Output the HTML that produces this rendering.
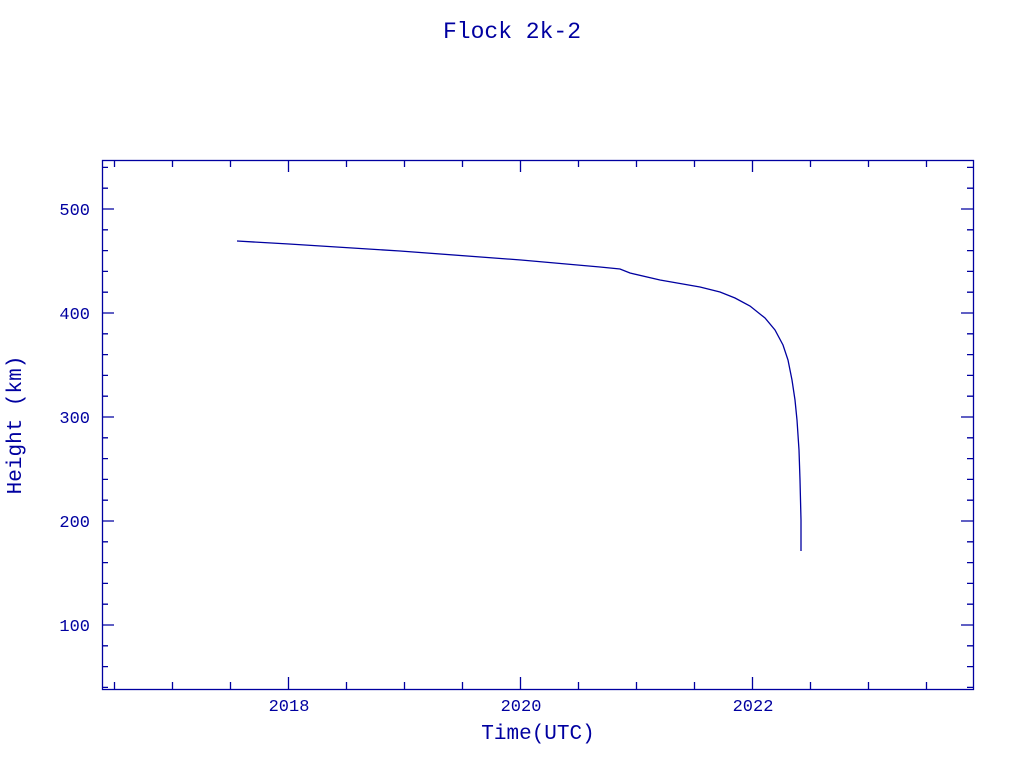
<!DOCTYPE html>
<html><head><meta charset="utf-8"><style>
body{margin:0;background:#fff;}
svg{display:block;font-family:"Liberation Mono",monospace;}
</style></head><body>
<svg width="1024" height="768" viewBox="0 0 1024 768" xmlns="http://www.w3.org/2000/svg">
<g fill="#0000a0" font-size="17">
<text x="512" y="38" text-anchor="middle" font-size="23">Flock 2k-2</text>
<text x="289" y="711" text-anchor="middle">2018</text>
<text x="521" y="711" text-anchor="middle">2020</text>
<text x="753" y="711" text-anchor="middle">2022</text>
<text x="538" y="739" text-anchor="middle" font-size="21">Time(UTC)</text>
<text x="90" y="215" text-anchor="end">500</text>
<text x="90" y="319" text-anchor="end">400</text>
<text x="90" y="423" text-anchor="end">300</text>
<text x="90" y="527" text-anchor="end">200</text>
<text x="90" y="631" text-anchor="end">100</text>
<text transform="translate(21,425) rotate(-90)" text-anchor="middle" font-size="21">Height (km)</text>
</g>
<g stroke="#0000a0" stroke-width="1.3" fill="none">
<rect x="102.5" y="160.5" width="871" height="529"/>
<path d="M114.5 689v-7M114.5 160v7M172.5 689v-7M172.5 160v7M230.5 689v-7M230.5 160v7M288.5 689v-12M288.5 160v12M346.5 689v-7M346.5 160v7M404.5 689v-7M404.5 160v7M462.5 689v-7M462.5 160v7M520.5 689v-12M520.5 160v12M578.5 689v-7M578.5 160v7M636.5 689v-7M636.5 160v7M694.5 689v-7M694.5 160v7M752.5 689v-12M752.5 160v12M810.5 689v-7M810.5 160v7M868.5 689v-7M868.5 160v7M926.5 689v-7M926.5 160v7"/>
<path d="M102 687.4h6M973 687.4h-6M102 666.6h6M973 666.6h-6M102 645.8h6M973 645.8h-6M102 625h12M973 625h-12M102 604.2h6M973 604.2h-6M102 583.4h6M973 583.4h-6M102 562.6h6M973 562.6h-6M102 541.8h6M973 541.8h-6M102 521h12M973 521h-12M102 500.2h6M973 500.2h-6M102 479.4h6M973 479.4h-6M102 458.6h6M973 458.6h-6M102 437.8h6M973 437.8h-6M102 417h12M973 417h-12M102 396.2h6M973 396.2h-6M102 375.4h6M973 375.4h-6M102 354.6h6M973 354.6h-6M102 333.8h6M973 333.8h-6M102 313h12M973 313h-12M102 292.2h6M973 292.2h-6M102 271.4h6M973 271.4h-6M102 250.6h6M973 250.6h-6M102 229.8h6M973 229.8h-6M102 209h12M973 209h-12M102 188.2h6M973 188.2h-6M102 167.4h6M973 167.4h-6"/>
<polyline points="237,241 289,244 400,251 521,260 600,267 620,269 630,273 660,280 700,287 720,292 735,298 750,306 765,318 775,330 783,345 788,360 792,380 795,400 797,420 799,450 800,480 801,520 801,551"/>
</g>
</svg>
</body></html>
